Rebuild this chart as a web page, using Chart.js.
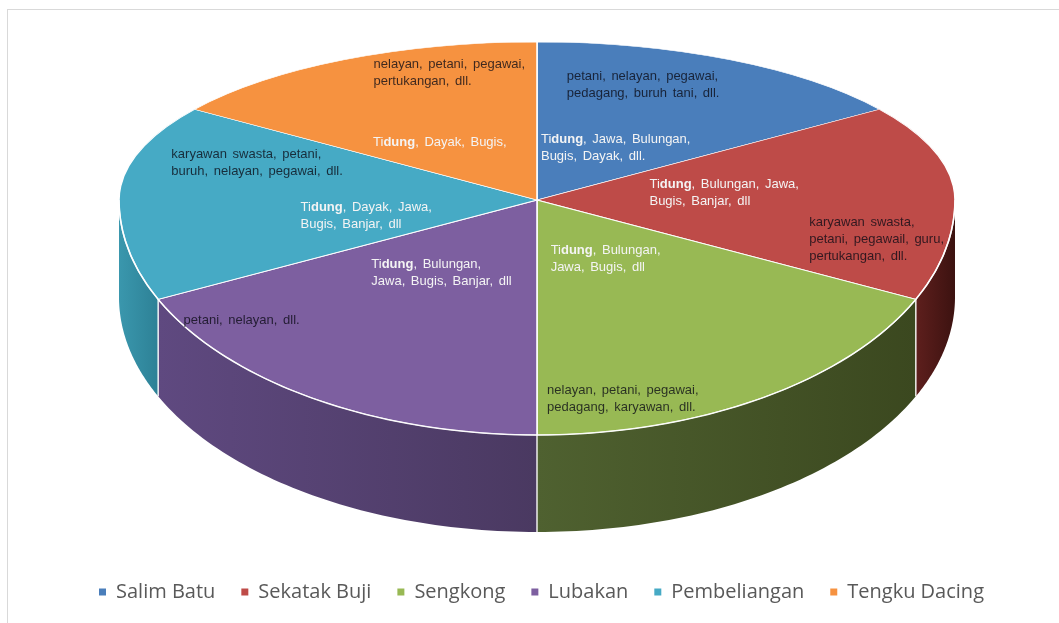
<!DOCTYPE html>
<html>
<head>
<meta charset="utf-8">
<script src="https://cdn.jsdelivr.net/npm/chart.js@4/dist/chart.umd.min.js"></script>
<style>
  html, body { margin: 0; padding: 0; background: #fff; overflow: hidden; }
  #wrap { position: relative; width: 1059px; height: 623px; }
  #frame { position: absolute; left: 7px; top: 9px; width: 1100px; height: 700px; border: 1px solid #d9d9d9; }
  #myChart { position: absolute; left: 0; top: 0; }
</style>
</head>
<body>
<div id="wrap">
  <div id="frame"></div>
  <canvas id="myChart" width="1059" height="623"></canvas>
</div>
<script>
// data
const regions = ['Salim Batu', 'Sekatak Buji', 'Sengkong', 'Lubakan', 'Pembeliangan', 'Tengku Dacing'];
const shares = [55, 60, 65, 65, 60, 55];
const ethnicLabels = [
  ['Tidung, Jawa, Bulungan,', 'Bugis, Dayak, dll.'],
  ['Tidung, Bulungan, Jawa,', 'Bugis, Banjar, dll'],
  ['Tidung, Bulungan,', 'Jawa, Bugis, dll'],
  ['Tidung, Bulungan,', 'Jawa, Bugis, Banjar, dll'],
  ['Tidung, Dayak, Jawa,', 'Bugis, Banjar, dll'],
  ['Tidung, Dayak, Bugis,']
];
const jobLabels = [
  ['petani, nelayan, pegawai,', 'pedagang, buruh tani, dll.'],
  ['karyawan swasta,', 'petani, pegawail, guru,', 'pertukangan, dll.'],
  ['nelayan, petani, pegawai,', 'pedagang, karyawan, dll.'],
  ['petani, nelayan, dll.'],
  ['karyawan swasta, petani,', 'buruh, nelayan, pegawai, dll.'],
  ['nelayan, petani, pegawai,', 'pertukangan, dll.']
];

// styles
const topColors = ['#4a7ebb', '#be4b48', '#98b954', '#7d5fa0', '#46aac5', '#f69240'];
const sideShades = [
  ['#3a6496', '#2c4d75'],
  ['#5e1f1d', '#3c1210'],
  ['#4f6130', '#3b481f'],
  ['#5f4980', '#4a3961'],
  ['#3a97ad', '#2d8196'],
  ['#c4742f', '#a05c22']
];
// where each text block sits inside its slice: [fraction of slice angle, fraction of radius]
const ethnicPlace = [[0.54, 0.38], [0.49, 0.45], [0.49, 0.30], [0.56, 0.385], [0.26, 0.414], [0.405, 0.43]];
const jobPlace = [[0.35, 0.77], [0.78, 0.83], [0.79, 0.87], [0.83, 0.874], [0.74, 0.71], [0.735, 0.834]];

// projected pie geometry (tilted view)
const CX = 537, CY = 200, RX = 418, RY_TOP = 158, RY_BOTTOM = 235, DEPTH = 97;

function project(a, f) {
  const s = Math.sin(a);
  return [CX + RX * f * Math.cos(a), CY + (s < 0 ? RY_TOP : RY_BOTTOM) * f * s];
}

const pie3d = {
  id: 'pie3d',
  beforeDatasetsDraw(chart) {
    const ctx = chart.ctx;
    const arcs = chart.getDatasetMeta(0).data;
    const x0 = arcs[0].x, y0 = arcs[0].y, r = arcs[0].outerRadius;

    // side walls (front half only)
    arcs.forEach((arc, i) => {
      const lo = Math.max(arc.startAngle, 0), hi = Math.min(arc.endAngle, Math.PI);
      if (lo >= hi) return;
      const n = 60;
      ctx.save();
      ctx.beginPath();
      for (let k = 0; k <= n; k++) {
        const p = project(lo + (hi - lo) * k / n, 1);
        ctx.lineTo(p[0], p[1]);
      }
      for (let k = n; k >= 0; k--) {
        const p = project(lo + (hi - lo) * k / n, 1);
        ctx.lineTo(p[0], p[1] + DEPTH);
      }
      ctx.closePath();
      const pa = project(lo, 1), pb = project(hi, 1);
      const g = ctx.createLinearGradient(Math.min(pa[0], pb[0]), 0, Math.max(pa[0], pb[0]), 0);
      g.addColorStop(0, sideShades[i][0]);
      g.addColorStop(1, sideShades[i][1]);
      ctx.fillStyle = g;
      ctx.fill();
      ctx.restore();
    });
    // white seams between side walls
    ctx.save();
    ctx.strokeStyle = 'rgba(255,255,255,0.9)';
    ctx.lineWidth = 1.5;
    arcs.forEach(arc => {
      const a = arc.endAngle;
      if (a > 0 && a < Math.PI) {
        const p = project(a, 1);
        ctx.beginPath();
        ctx.moveTo(p[0], p[1]);
        ctx.lineTo(p[0], p[1] + DEPTH);
        ctx.stroke();
      }
    });
    ctx.restore();

    // top face: upper and lower halves squashed differently
    [[0, CY, RY_TOP], [CY, chart.height - CY, RY_BOTTOM]].forEach(([top, h, ry]) => {
      ctx.save();
      ctx.beginPath();
      ctx.rect(0, top, chart.width, h);
      ctx.clip();
      ctx.translate(CX, CY);
      ctx.scale(RX / r, ry / r);
      ctx.translate(-x0, -y0);
      arcs.forEach(arc => arc.draw(ctx));
      ctx.restore();
    });

    // light rim along the front edge
    ctx.save();
    ctx.strokeStyle = 'rgba(255,255,255,0.85)';
    ctx.lineWidth = 1.5;
    ctx.beginPath();
    for (let k = 0; k <= 120; k++) {
      const p = project(Math.PI * k / 120, 1);
      ctx.lineTo(p[0], p[1]);
    }
    ctx.stroke();
    ctx.restore();
    return false;
  },
  afterDraw(chart) {
    const ctx = chart.ctx;
    const arcs = chart.getDatasetMeta(0).data;
    const size = 13, lh = 17;
    const normal = size + 'px "Liberation Sans", Arial, sans-serif';
    const bold = 'bold ' + normal;

    ctx.save();
    if ('wordSpacing' in ctx) ctx.wordSpacing = '2px';

    function lineWidth(line) {
      if (line.startsWith('Tidung')) {
        ctx.font = normal;
        let w = ctx.measureText('Ti').width + ctx.measureText(line.slice(6)).width;
        ctx.font = bold;
        return w + ctx.measureText('dung').width;
      }
      ctx.font = normal;
      return ctx.measureText(line).width;
    }
    function block(lines, arc, place, color) {
      const a = arc.startAngle + (arc.endAngle - arc.startAngle) * place[0];
      const [x, y] = project(a, place[1]);
      const w = Math.max(...lines.map(lineWidth));
      let left = x - w / 2;
      let top = y - (lines.length * lh) / 2 + lh / 2;
      ctx.fillStyle = color;
      ctx.textBaseline = 'middle';
      ctx.textAlign = 'left';
      lines.forEach((line, k) => {
        const yy = top + k * lh;
        if (line.startsWith('Tidung')) {
          let xx = left;
          ctx.font = normal; ctx.fillText('Ti', xx, yy); xx += ctx.measureText('Ti').width;
          ctx.font = bold; ctx.fillText('dung', xx, yy); xx += ctx.measureText('dung').width;
          ctx.font = normal; ctx.fillText(line.slice(6), xx, yy);
        } else {
          ctx.font = normal;
          ctx.fillText(line, left, yy);
        }
      });
    }
    arcs.forEach((arc, i) => {
      block(ethnicLabels[i], arc, ethnicPlace[i], '#f4f4f4');
      block(jobLabels[i], arc, jobPlace[i], 'rgba(10,10,20,0.78)');
    });
    ctx.restore();
  }
};

var ctx = document.getElementById('myChart').getContext('2d');
var myChart = new Chart(ctx, {
  type: 'pie',
  data: {
    labels: regions,
    datasets: [{
      data: shares,
      backgroundColor: topColors,
      borderColor: '#ffffff',
      borderWidth: 1
    }]
  },
  options: {
    responsive: false,
    animation: false,
    layout: { padding: { top: 20, bottom: 11, left: 32, right: 8 } },
    plugins: {
      tooltip: { enabled: false },
      legend: {
        position: 'bottom',
        labels: {
          boxWidth: 7,
          boxHeight: 7,
          padding: 26,
          color: '#595959',
          font: { family: '"Open Sans", sans-serif', size: 20, lineHeight: 0.8 },
          generateLabels: (chart) => {
            const items = Chart.controllers.pie.overrides.plugins.legend.labels.generateLabels(chart);
            items.forEach(it => { it.lineWidth = 0; it.strokeStyle = 'transparent'; });
            return items;
          }
        }
      }
    }
  },
  plugins: [pie3d]
});
</script>
</body>
</html>
